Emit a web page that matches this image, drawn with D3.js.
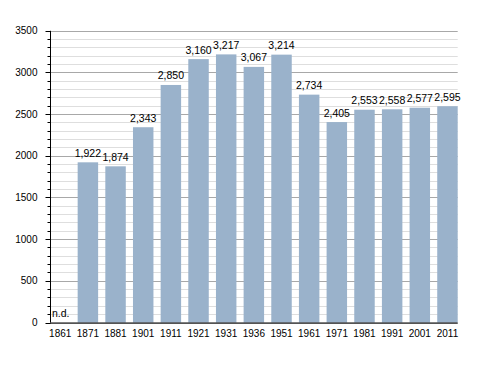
<!DOCTYPE html>
<html>
<head>
<meta charset="utf-8">
<script src="https://cdn.jsdelivr.net/npm/d3@7"></script>
<style>
body { margin: 0; background: #fff; }
text { font-family: "Liberation Sans", Arial, sans-serif; }
</style>
</head>
<body>
<svg id="svg" width="488" height="373"></svg>
<script>
var years = ["1861","1871","1881","1901","1911","1921","1931","1936","1951","1961","1971","1981","1991","2001","2011"];
var population = [null,1922,1874,2343,2850,3160,3217,3067,3214,2734,2405,2553,2558,2577,2595];
var yTicks = [0,500,1000,1500,2000,2500,3000,3500];

var svg = d3.select("#svg");
var x0 = 50, x1 = 457.7, yb = 322.5, yt = 30.8;

var x = d3.scaleBand().domain(years).range([x0, x1]).paddingInner(0.26).paddingOuter(0).align(0);
var y = d3.scaleLinear().domain([0, 3500]).range([yb, yt]);

var minor = d3.range(0, 3501, 100);

// grid
svg.append("g").selectAll("line").data(minor).enter().append("line")
    .attr("x1", x0).attr("x2", x1)
    .attr("y1", d => Math.round(y(d)) + 0.5).attr("y2", d => Math.round(y(d)) + 0.5)
    .attr("stroke", d => d % 500 ? "#dedede" : "#a8a8a8")
    .attr("stroke-width", 1);

// bars
var data = years.map((yr, i) => ({yr: yr, v: population[i]}));
svg.append("g").selectAll("rect").data(data.filter(d => d.v != null)).enter().append("rect")
    .attr("x", d => x(d.yr)).attr("width", x.bandwidth())
    .attr("y", d => y(d.v)).attr("height", d => yb - y(d.v))
    .attr("fill", "#9ab2cb");

// value labels
var fmt = d3.format(",");
svg.append("g").selectAll("text").data(data).enter().append("text")
    .attr("x", d => d.v == null ? x0 + 2 : x(d.yr) + x.bandwidth() / 2)
    .attr("y", d => d.v == null ? yb - 5.5 : y(d.v) - 5.5)
    .attr("text-anchor", d => d.v == null ? "start" : "middle")
    .attr("font-size", 10.5)
    .text(d => d.v == null ? "n.d." : fmt(d.v));

// y axis
var ya = svg.append("g").attr("transform", "translate(" + (x0 + 0.5) + ",0)");
ya.append("line").attr("y1", yt).attr("y2", yb).attr("stroke", "#000");
ya.selectAll("line.t").data(minor).enter().append("line").attr("class", "t")
    .attr("x1", d => d % 500 ? -3 : -5).attr("x2", 0)
    .attr("y1", d => Math.round(y(d)) + 0.5).attr("y2", d => Math.round(y(d)) + 0.5)
    .attr("stroke", "#000");
ya.selectAll("text").data(yTicks).enter().append("text")
    .attr("x", -13).attr("y", d => y(d)).attr("dy", "0.35em")
    .attr("text-anchor", "end").attr("font-size", 10)
    .text(d => d);

// x axis
svg.append("line").attr("x1", x0).attr("x2", x1)
    .attr("y1", yb + 0.5).attr("y2", yb + 0.5).attr("stroke", "#000");
svg.append("g").selectAll("text").data(years).enter().append("text")
    .attr("x", d => x(d) + x.bandwidth() / 2).attr("y", 337)
    .attr("text-anchor", "middle").attr("font-size", 10)
    .text(d => d);
</script>
</body>
</html>
